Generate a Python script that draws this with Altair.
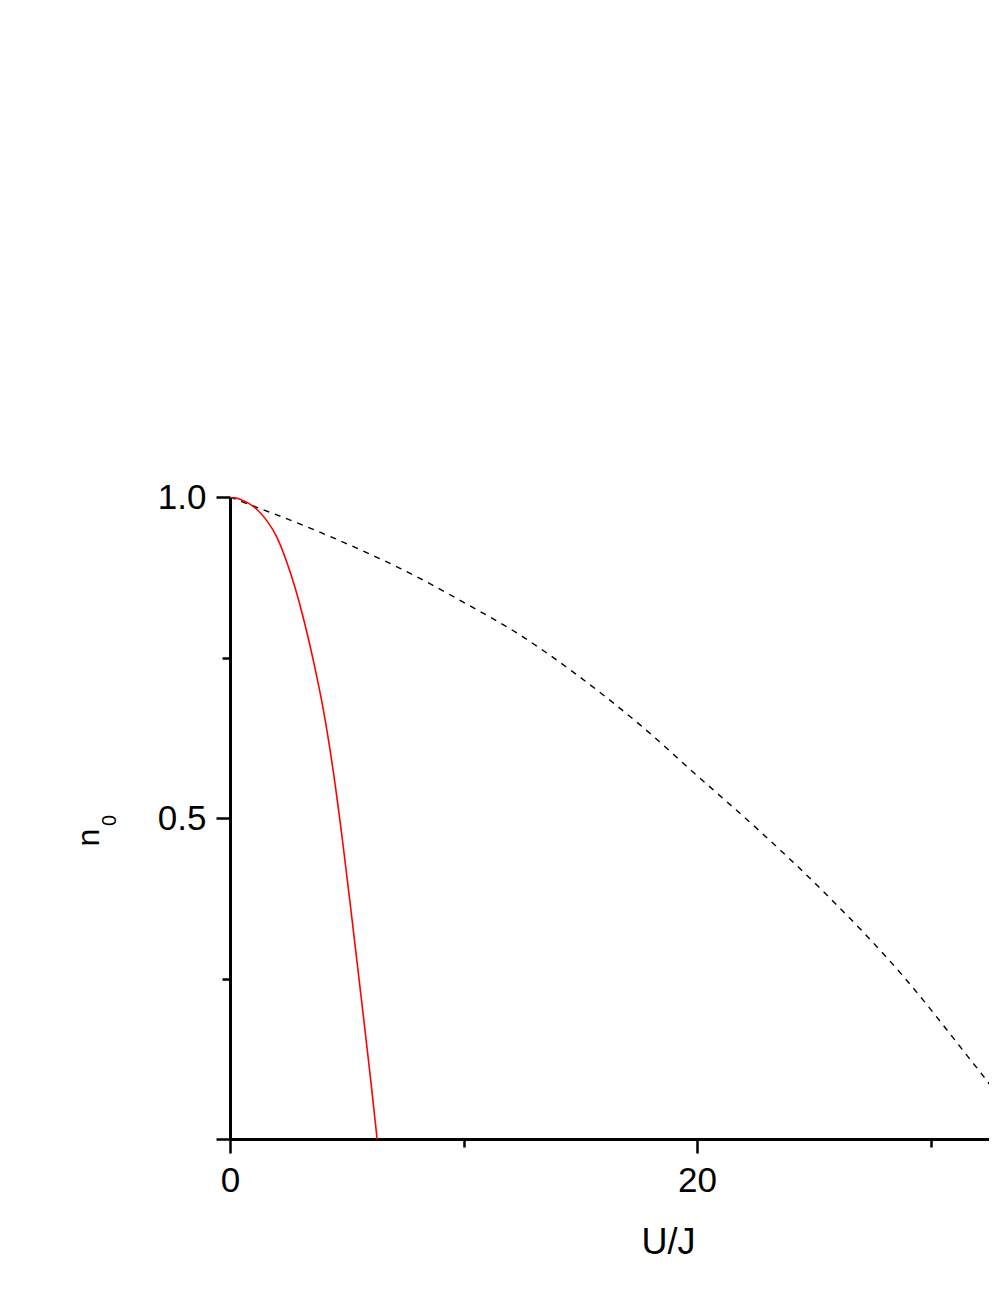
import altair as alt
import pandas as pd

# ---- data ----
red_u = [0.0, 0.4, 0.8, 1.2, 1.6, 2.0, 2.4, 2.8, 3.2, 3.6, 4.0, 4.4, 4.8, 5.2, 5.6, 6.0, 6.3]
red_n = [1.0, 0.997, 0.990, 0.979, 0.962, 0.938, 0.902, 0.857, 0.803, 0.740, 0.668, 0.578, 0.470, 0.350, 0.226, 0.100, 0.0]

dash_u = [0.0, 0.84, 2.09, 4.19, 6.29, 7.28, 10.0, 12.42, 14.67, 17.56, 20.0, 22.70, 25.27, 28.91, 31.43, 32.79, 33.3]
dash_n = [1.0, 0.988, 0.971, 0.940, 0.906, 0.889, 0.836, 0.785, 0.728, 0.645, 0.566, 0.479, 0.3905, 0.250, 0.136, 0.072, 0.045]

x_major = [0, 20]
x_minor = [10, 30]
y_major = [0, 0.5, 1.0]
y_minor = [0.25, 0.75]
x_title = "U/J"
y_title = "n"
y_title_sub = "0"

X_MAX = 32.5
FONT = "Liberation Sans"

red_df = pd.DataFrame({"u": red_u, "n": red_n})
dash_df = pd.DataFrame({"u": dash_u, "n": dash_n})

x_scale = alt.Scale(domain=[0, X_MAX], nice=False, zero=False)
y_scale = alt.Scale(domain=[0, 1], nice=False)

red = alt.Chart(red_df).mark_line(
    color="#ff0000", strokeWidth=1.6, clip=True, interpolate="monotone"
).encode(
    x=alt.X("u:Q", scale=x_scale, axis=alt.Axis(
        orient="bottom", values=x_major, format="d", labelFlush=False,
        tickSize=14, labelPadding=10, labelFontSize=35,
        title=x_title, titleFontSize=36, titleX=438, titleY=114,
        titleAlign="center", titleBaseline="alphabetic")),
    y=alt.Y("n:Q", scale=y_scale, axis=alt.Axis(
        orient="left", values=y_major, labelFlush=False,
        labelExpr="datum.value == 0 ? '' : format(datum.value, '.1f')",
        tickSize=14, labelPadding=10, labelFontSize=35,
        title=y_title, titleFontSize=32, titleAngle=270,
        titleX=-132, titleY=340, titleAlign="center", titleBaseline="alphabetic")),
)

dashed = alt.Chart(dash_df).mark_line(
    color="black", strokeWidth=1.4, strokeDash=[6, 6], clip=True, interpolate="monotone"
).encode(
    x=alt.X("u:Q", scale=x_scale, axis=alt.Axis(
        orient="bottom", values=x_minor, labels=False, domain=False,
        tickSize=8, title=None)),
    y=alt.Y("n:Q", scale=y_scale, axis=alt.Axis(
        orient="left", values=y_minor, labels=False, domain=False,
        tickSize=8, title=y_title_sub, titleFontSize=20, titleAngle=270,
        titleX=-115, titleY=323, titleAlign="center", titleBaseline="alphabetic")),
)

chart = alt.layer(dashed, red).resolve_axis(
    x="independent", y="independent"
).properties(
    width=759, height=642,
    autosize=alt.AutoSizeParams(type="none"),
    padding={"left": 222, "top": 489, "right": 0, "bottom": 125},
).configure_axis(
    grid=False, domainColor="black", tickColor="black", domainWidth=3,
    tickWidth=2.5, labelColor="black", titleColor="black",
    labelFont=FONT, titleFont=FONT, titleFontWeight="normal",
).configure_view(strokeWidth=0)

chart.save("out.html", embed_options={"renderer": "svg", "actions": False})
